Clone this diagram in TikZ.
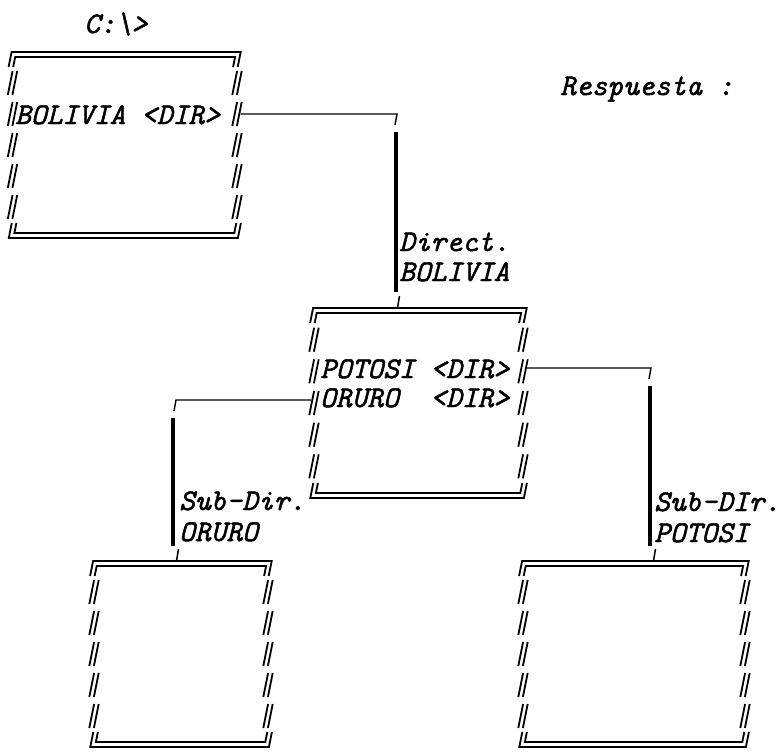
\documentclass[tikz,border=0pt]{standalone}
\usepackage{fontspec}
\newfontfamily\tw{lmmono10-italic}[Extension=.otf, FakeBold=1.6]

% one slanted stroke of a typed double bar: #1 column x at height #2, drawn from y=#3 to y=#4
\newcommand\vst[4]{%
  \draw[boxline] ({#1-0.2*((#3)-(#2))},{#3}) -- ({#1-0.2*((#4)-(#2))},{#4});}

% typed double-line frame: #1 left column x, #2 right column x, #3 top line y, #4 bottom line y
\newcommand\dirbox[4]{%
  \pgfmathsetmacro\bxP{((#4)-(#3))/6}
  % top edge with its two corners
  \draw[boxline] ({#1-2.3-1.6},{#3+15}) -- ({#1-2.3+1.4},{#3}) -- ({#2+2.3+1.4},{#3}) -- ({#2+2.3-1.6},{#3+15});
  \draw[boxline] ({#1+2.3-1.6},{#3+15}) -- ({#1+2.3+0.4},{#3+5}) -- ({#2-2.3+0.4},{#3+5}) -- ({#2-2.3-1.6},{#3+15});
  % bottom edge with its two corners
  \draw[boxline] ({#1-2.3+1.6},{#4-15}) -- ({#1-2.3-1.4},{#4}) -- ({#2+2.3-1.4},{#4}) -- ({#2+2.3+1.6},{#4-15});
  \draw[boxline] ({#1+2.3+1.6},{#4-15}) -- ({#1+2.3-0.4},{#4-5}) -- ({#2-2.3-0.4},{#4-5}) -- ({#2-2.3+1.6},{#4-15});
  % side bars, one per typed row
  \foreach \k in {1,...,5}{%
    \pgfmathsetmacro\yc{#3+\k*\bxP}
    \vst{#1-2.3}{\yc}{\yc-12}{\yc+12}
    \vst{#1+2.3}{\yc}{\yc-12}{\yc+12}
    \vst{#2-2.3}{\yc}{\yc-12}{\yc+12}
    \vst{#2+2.3}{\yc}{\yc-12}{\yc+12}
  }}

\tikzset{
  boxline/.style={line width=1.8pt, line join=miter},
  link/.style={line width=1.4pt},
  stem/.style={line width=3.8pt},
  tick/.style={line width=1.5pt},
  txt/.style={inner sep=0pt, anchor=base west,
    font=\tw\fontsize{30}{34}\selectfont},
}

\begin{document}
\begin{tikzpicture}[x=1pt, y=-1pt]
\useasboundingbox (0,0) rectangle (782,753);

% frames
\dirbox{12.5}{237}{52}{238}
\dirbox{314}{523}{308}{498}
\dirbox{94}{268}{561}{747}
\dirbox{523}{745}{561}{747}

% texts
\node[txt] (drive) at (84,33) {C:\textbackslash>};
\node[txt] (resp) at (560,95) {Respuesta :};
\node[txt] (bol) at (15,124) {BOLIVIA <DIR>};
\node[txt] (pot) at (320,378) {POTOSI <DIR>};
\node[txt] (oru) at (320,407) {ORURO\ \ <DIR>};

\node[txt] (lab1a) at (399,251) {Direct.};
\node[txt] (lab1b) at (399,281) {BOLIVIA};
\node[txt] (lab2a) at (179,510) {Sub-Dir.};
\node[txt] (lab2b) at (179,541) {ORURO};
\node[txt] (lab3a) at (654,511) {Sub-DIr.};
\node[txt] (lab3b) at (654,542) {POTOSI};

% connector points
\coordinate (o1) at (240.5,114);
\coordinate (k1) at (397,114);
\coordinate (k1e) at (395,125);
\coordinate (s1t) at (396,132);
\coordinate (s1b) at (396,292);
\coordinate (t1t) at (399.5,296);
\coordinate (t1b) at (397.5,308);

\coordinate (o2) at (526.5,368);
\coordinate (k2) at (651,368);
\coordinate (k2e) at (649,379);
\coordinate (s2t) at (650,386);
\coordinate (s2b) at (650,546);
\coordinate (t2t) at (655.5,549);
\coordinate (t2b) at (653.5,561);

\coordinate (o3) at (311,400);
\coordinate (k3) at (176,400);
\coordinate (k3e) at (174,411);
\coordinate (s3t) at (173,418);
\coordinate (s3b) at (173,546);
\coordinate (t3t) at (178.5,549);
\coordinate (t3b) at (176.5,561);

% connectors
\draw[link] (o1) -- (k1) -- (k1e);
\draw[stem] (s1t) -- (s1b);
\draw[tick] (t1t) -- (t1b);

\draw[link] (o2) -- (k2) -- (k2e);
\draw[stem] (s2t) -- (s2b);
\draw[tick] (t2t) -- (t2b);

\draw[link] (o3) -- (k3) -- (k3e);
\draw[stem] (s3t) -- (s3b);
\draw[tick] (t3t) -- (t3b);
\end{tikzpicture}
\end{document}
